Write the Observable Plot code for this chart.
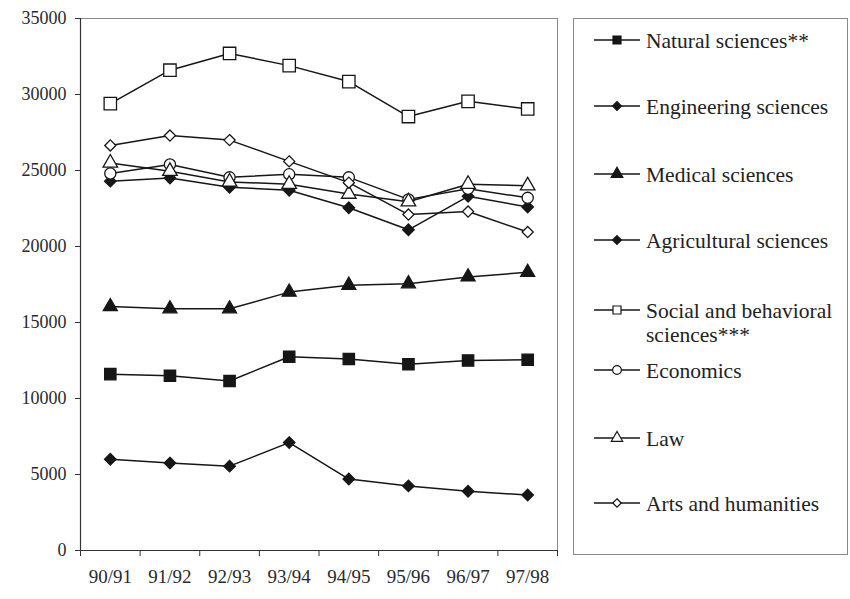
<!DOCTYPE html>
<html><head><meta charset="utf-8">
<script src="https://cdn.jsdelivr.net/npm/d3@7"></script>
<script src="https://cdn.jsdelivr.net/npm/@observablehq/plot@0.6"></script>
<style>
body{margin:0;background:#fff;}
#wrap{position:relative;width:850px;height:599px;background:#fff;}
#wrap svg{display:block;}
#wrap text{font-family: "Liberation Serif", "DejaVu Serif", "Times New Roman", Times, serif;}
#legend{position:absolute;left:0;top:0;}
</style></head><body><div id="wrap"></div>
<script>
const years = ["90/91","91/92","92/93","93/94","94/95","95/96","96/97","97/98"];
const natural      = [11600, 11500, 11150, 12750, 12600, 12250, 12500, 12550];
const engineering  = [24300, 24500, 23900, 23700, 22550, 21100, 23300, 22600];
const medical      = [16050, 15900, 15900, 17000, 17450, 17550, 18000, 18300];
const agricultural = [6000, 5750, 5550, 7100, 4700, 4250, 3900, 3650];
const social       = [29400, 31600, 32700, 31900, 30850, 28550, 29550, 29050];
const economics    = [24800, 25400, 24550, 24750, 24550, 23100, 23800, 23200];
const law          = [25500, 24950, 24250, 24100, 23450, 22950, 24100, 24000];
const arts         = [26650, 27300, 27000, 25600, 24200, 22100, 22300, 20950];
const yTicks = [0, 5000, 10000, 15000, 20000, 25000, 30000, 35000];

const seriesNames = ["Natural sciences**","Engineering sciences","Medical sciences","Agricultural sciences","Social and behavioral sciences***","Economics","Law","Arts and humanities"];
const legendLines = [["Natural sciences**"],["Engineering sciences"],["Medical sciences"],["Agricultural sciences"],["Social and behavioral","sciences***"],["Economics"],["Law"],["Arts and humanities"]];
const seriesValues = [natural, engineering, medical, agricultural, social, economics, law, arts];
const symbols = ["square","diamond2","triangle","diamond2","square","circle","triangle","diamond2"];
const filled = [true, true, true, true, false, false, false, false];
const radii = [6.4, 5.2, 5.2, 5.2, 7.0, 5.6, 5.4, 5.0];

const ink = "#161616";
const fontStack = "Liberation Serif, DejaVu Serif, Times New Roman, serif";
const rows = seriesNames.flatMap((name, i) => seriesValues[i].map((v, j) => ({series: name, idx: j, value: v})));

const marks = [
  Plot.frame({stroke: "#8a8a8a", strokeWidth: 1}),
  Plot.ruleX([-0.5], {stroke: "#333", strokeWidth: 1.2}),
  Plot.ruleY([0], {stroke: "#333", strokeWidth: 1.2}),
  Plot.axisY({ticks: yTicks, tickSize: 5, tickPadding: 9, tickFormat: d3.format("d"), label: null, fontSize: 18, stroke: "#333"}),
  Plot.axisX({ticks: d3.range(-0.5, 8, 1), tickSize: 6, tickFormat: () => "", label: null, stroke: "#333"}),
  Plot.axisX({ticks: d3.range(0, 8), tickSize: 0, tickPadding: 19, tickFormat: i => years[i], label: null, fontSize: 19})
];
seriesNames.forEach((name, i) => {
  const data = rows.filter(d => d.series === name);
  marks.push(Plot.line(data, {x: "idx", y: "value", stroke: ink, strokeWidth: 1.5}));
  marks.push(Plot.dot(data, {x: "idx", y: "value", symbol: symbols[i], r: radii[i], fill: filled[i] ? ink : "white", stroke: ink, strokeWidth: 1.3}));
});

const chart = Plot.plot({
  width: 850, height: 599,
  marginLeft: 80, marginRight: 293, marginTop: 18, marginBottom: 49,
  style: {fontFamily: fontStack, fontSize: "19px", color: "#2a2a2a", background: "white"},
  x: {domain: [-0.5, 7.5]},
  y: {domain: [0, 35000]},
  marks
});
const wrap = document.getElementById("wrap");
wrap.appendChild(chart);

// legend
const lg = d3.select(wrap).append("svg").attr("id", "legend").attr("width", 850).attr("height", 599);
lg.append("rect").attr("x", 573.5).attr("y", 18.5).attr("width", 274).attr("height", 536).attr("fill", "none").attr("stroke", "#8a8a8a");
const rowY = [40, 106, 174, 240, 310, 370, 438, 503];
const symMap = {square: d3.symbolSquare, diamond2: d3.symbolDiamond2, triangle: d3.symbolTriangle, circle: d3.symbolCircle};
const legSize = [64, 50, 60, 50, 64, 60, 56, 46];
legendLines.forEach((lines, i) => {
  const g = lg.append("g").attr("transform", `translate(0,${rowY[i]})`);
  g.append("line").attr("x1", 594).attr("x2", 640).attr("y1", 0).attr("y2", 0).attr("stroke", ink).attr("stroke-width", 1.5);
  g.append("path").attr("d", d3.symbol(symMap[symbols[i]], legSize[i])()).attr("transform", "translate(617,0)")
    .attr("fill", filled[i] ? ink : "white").attr("stroke", ink).attr("stroke-width", 1.2);
  lines.forEach((t, k) => {
    g.append("text").attr("x", 646).attr("y", k * 24).attr("dy", "0.35em")
      .attr("font-family", fontStack).attr("font-size", 21.5).attr("fill", "#222").text(t);
  });
});
</script></body></html>
